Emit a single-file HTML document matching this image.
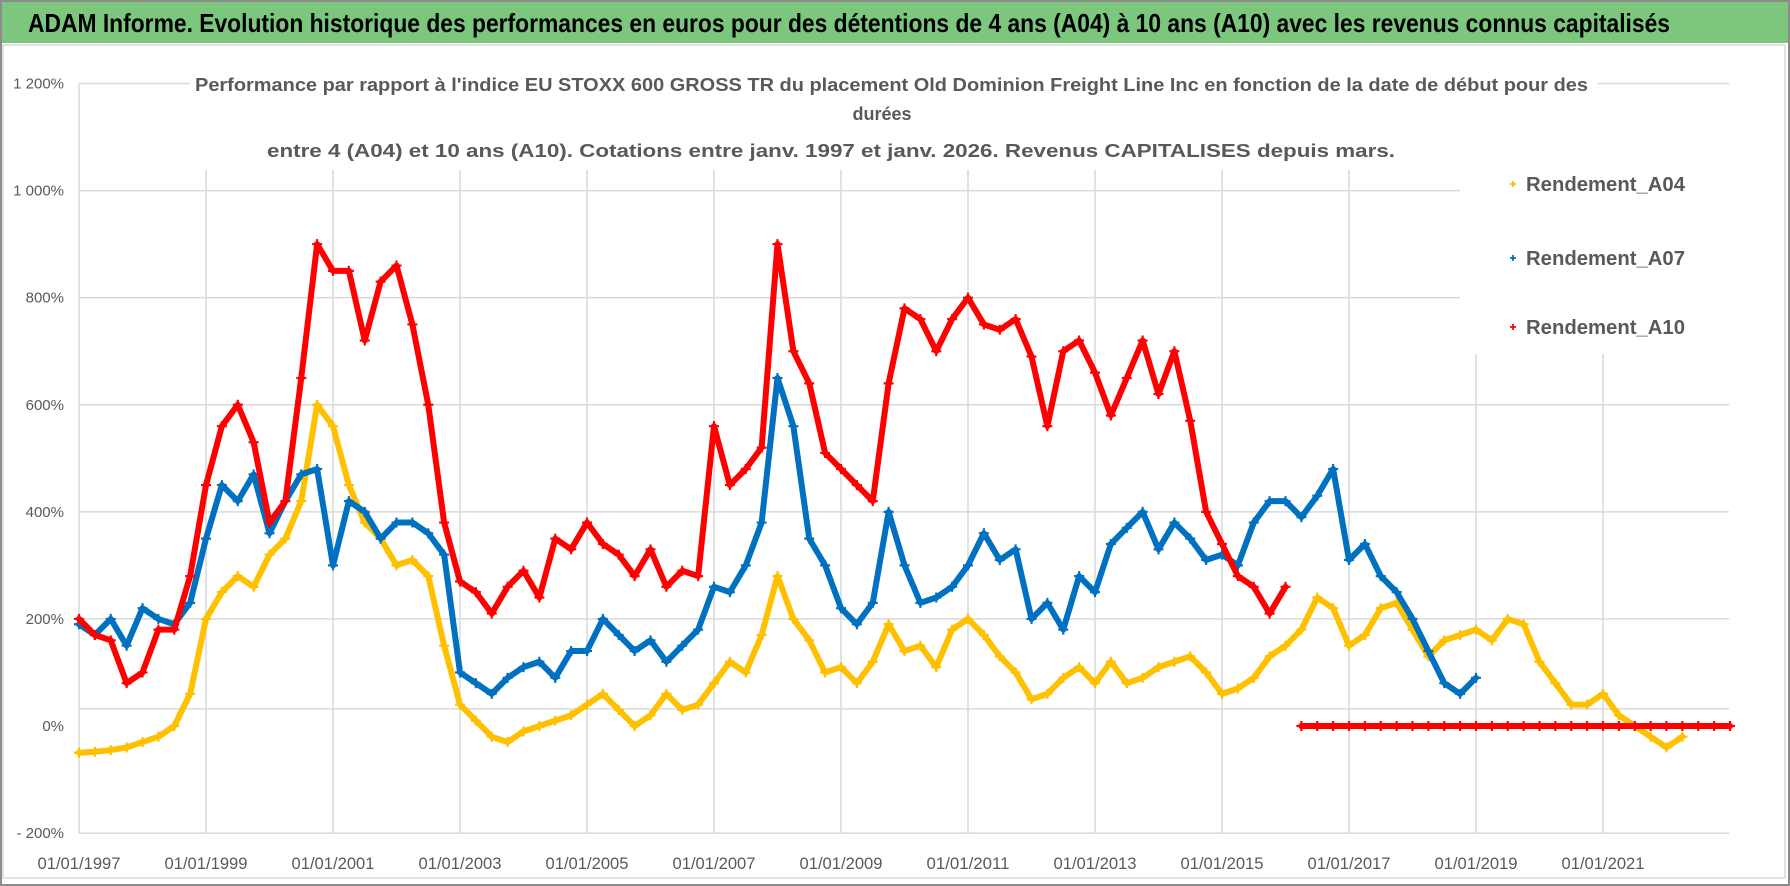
<!DOCTYPE html>
<html><head><meta charset="utf-8">
<style>
html,body{margin:0;padding:0;background:#fff;}
svg{display:block;font-family:"Liberation Sans",sans-serif;}
</style></head>
<body>
<svg id="chart" width="1790" height="886" viewBox="0 0 1790 886" xmlns="http://www.w3.org/2000/svg">
  <rect x="0" y="0" width="1790" height="886" fill="#fff"/>
  <rect x="1" y="1" width="1788" height="42" fill="#7DC67E"/>
  <text x="28" y="32" font-size="26" font-weight="bold" fill="#000" textLength="1642" lengthAdjust="spacingAndGlyphs">ADAM Informe. Evolution historique des performances en euros pour des détentions de 4 ans (A04) à 10 ans (A10) avec les revenus connus capitalisés</text>
  <rect x="3" y="45" width="1782" height="833" fill="none" stroke="#d9d9d9" stroke-width="1.5"/>
  <rect x="1" y="1" width="1788" height="884" fill="none" stroke="#8c8c8c" stroke-width="2"/>
  <g id="grid"></g>
  <g id="yaxis"></g>
  <g id="xaxis"></g>
  <rect x="190" y="62" width="1408" height="100" fill="#fff"/>
  <rect x="1460" y="160" width="270" height="194" fill="#fff"/>
  <g font-size="18" font-weight="bold" fill="#595959">
    <text x="195" y="91" textLength="1393" lengthAdjust="spacingAndGlyphs">Performance par rapport à l'indice EU STOXX 600 GROSS TR  du placement Old Dominion Freight Line Inc en fonction de la date de début pour des</text>
    <text x="882" y="120" text-anchor="middle">durées</text>
    <text x="267" y="157" textLength="1128" lengthAdjust="spacingAndGlyphs">entre 4 (A04) et 10 ans (A10). Cotations entre janv. 1997 et janv. 2026. Revenus CAPITALISES depuis mars.</text>
  </g>
  <g id="series"></g>
  <g id="legend"></g>
</svg>
<script>
// ---- chart data (quarterly, starting 1997.0) ----
const startYear = 1997.0;
const stepYear = 0.25;
const rendementA04 = [
 -50,-48,-45,-40,  -30,-20,0,60,  200,250,280,260,  320,350,420,600,
 560,450,380,350,  300,310,280,150,  40,10,-20,-30,  -10,0,10,20,
 40,60,30,0,  20,60,30,40,  80,120,100,170,  280,200,160,100,
 110,80,120,190,  140,150,110,180,  200,170,130,100,  50,60,90,110,
 80,120,80,90,  110,120,130,100,  60,70,90,130,  150,180,240,220,
 150,170,220,230,  180,130,160,170,  180,160,200,190,  120,80,40,40,
 60,20,0,-20,  -40,-20
];
const rendementA07 = [
 190,170,200,150,  220,200,190,230,  350,450,420,470,  360,420,470,480,
 300,420,400,350,  380,380,360,320,  100,80,60,90,  110,120,90,140,
 140,200,170,140,  160,120,150,180,  260,250,300,380,  650,560,350,300,
 220,190,230,400,  300,230,240,260,  300,360,310,330,  200,230,180,280,
 250,340,370,400,  330,380,350,310,  320,300,380,420,  420,390,430,480,
 310,340,280,250,  200,140,80,60,  90
];
const rendementA10 = [
 200,170,160,80,  100,180,180,280,  450,560,600,530,  380,420,650,900,
 850,850,720,830,  860,750,600,380,  270,250,210,260,  290,240,350,330,
 380,340,320,280,  330,260,290,280,  560,450,480,520,  900,700,640,510,
 480,450,420,640,  780,760,700,760,  800,750,740,760,  690,560,700,720,
 660,580,650,720,  620,700,570,400,  340,280,260,210,  260,
 0,0,0,0,0,0,0,0,0,0,0,0,0,0,0,0,0,0,0,0,0,0,0,0,0,0,0,0
];
const yTicks = [1200,1000,800,600,400,200,0,-200];
const yTickLabels = ["1 200%","1 000%","800%","600%","400%","200%","0%","- 200%"];
const xTickYears = [1997,1999,2001,2003,2005,2007,2009,2011,2013,2015,2017,2019,2021];
const xTickLabels = ["01/01/1997","01/01/1999","01/01/2001","01/01/2003","01/01/2005","01/01/2007","01/01/2009","01/01/2011","01/01/2013","01/01/2015","01/01/2017","01/01/2019","01/01/2021"];
const gridValues = [1200,1000,800,600,400,200,32];
const seriesNames = ["Rendement_A04","Rendement_A07","Rendement_A10"];

// ---- axes ----
const X0 = 79, PX_PER_YEAR = 63.5, Y0 = 726, PX_PER_PCT = 0.5354;
const XR = 1729, YB = 833, YT = 84;
function xScale(year){ return X0 + (year - 1997) * PX_PER_YEAR; }
function yScale(v){ return Y0 - v * PX_PER_PCT; }
const NS = "http://www.w3.org/2000/svg";
function mk(tag, attrs, parent){
  const e = document.createElementNS(NS, tag);
  for (const k in attrs) e.setAttribute(k, attrs[k]);
  parent.appendChild(e); return e;
}
const grid = document.getElementById('grid');
gridValues.forEach(v => {
  const l = mk('line', {x1:X0, x2:XR, y1:yScale(v), y2:yScale(v), stroke:'#d9d9d9', 'stroke-width':1.5}, grid);
  
  
});
const bottom = mk('line', {x1:X0, x2:XR, y1:yScale(-200), y2:yScale(-200), stroke:'#d9d9d9', 'stroke-width':1.5}, grid);


xTickYears.forEach((yr, i) => {
  const x = xScale(yr);
  const l = mk('line', {x1:x, x2:x, y1:(i===0?YT:170), y2:YB, stroke:'#d9d9d9', 'stroke-width':1.5}, grid);
  
  
});
const yaxis = document.getElementById('yaxis');
yTicks.forEach((v, i) => {
  const t = mk('text', {x:64, y:yScale(v)+5, 'text-anchor':'end', 'font-size':15, fill:'#595959'}, yaxis);
  t.textContent = yTickLabels[i];
  
  
});
const xaxis = document.getElementById('xaxis');
xTickYears.forEach((yr, i) => {
  const t = mk('text', {x:xScale(yr), y:869, 'text-anchor':'middle', 'font-size':17, fill:'#595959', textLength:83, lengthAdjust:'spacingAndGlyphs'}, xaxis);
  t.textContent = xTickLabels[i];
  
  
});

// ---- series ----
const seriesG = document.getElementById('series');
function plus(g, x, y, color, s, w){
  const p = mk('path', {d:`M${x-s},${y}H${x+s}M${x},${y-s}V${y+s}`, stroke:color, 'stroke-width':w, fill:'none'}, g);
  
  
}
function drawSeries(values, color, name){
  const g = mk('g', {}, seriesG);
  
  
  const pts = values.map((v, i) => [xScale(startYear + i*stepYear), yScale(v)]);
  // split trace where the series jumps abruptly (no continuity in the scatter)
  let seg = [pts[0]];
  const segs = [];
  for (let i = 1; i < values.length; i++) {
    if (Math.abs(values[i] - values[i-1]) > 200 && values[i] === 0) { segs.push(seg); seg = []; }
    seg.push(pts[i]);
  }
  segs.push(seg);
  segs.forEach(s => {
    const pl = mk('polyline', {points: s.map(p => p.join(',')).join(' '), fill:'none', stroke:color, 'stroke-width':6, 'stroke-linejoin':'round', 'stroke-linecap':'round'}, g);
    
    
  });
  pts.forEach(p => plus(g, p[0], p[1], color, 5, 2.2));
}
drawSeries(rendementA04, '#FFC000', 'series-a04');
drawSeries(rendementA07, '#0070C0', 'series-a07');
drawSeries(rendementA10, '#FF0000', 'series-a10');

// ---- legend ----
const legend = document.getElementById('legend');
const legendColors = ['#FFC000','#0070C0','#FF0000'];
const legendY = [191, 265, 334];
seriesNames.forEach((n, i) => {
  const g = mk('g', {}, legend);
  
  
  plus(g, 1513, legendY[i]-7, legendColors[i], 3, 1.8);
  const t = mk('text', {x:1526, y:legendY[i], 'font-size':20, 'font-weight':'bold', fill:'#595959', textLength:159, lengthAdjust:'spacingAndGlyphs'}, g);
  t.textContent = n;
  
  
});
</script>
</body></html>
